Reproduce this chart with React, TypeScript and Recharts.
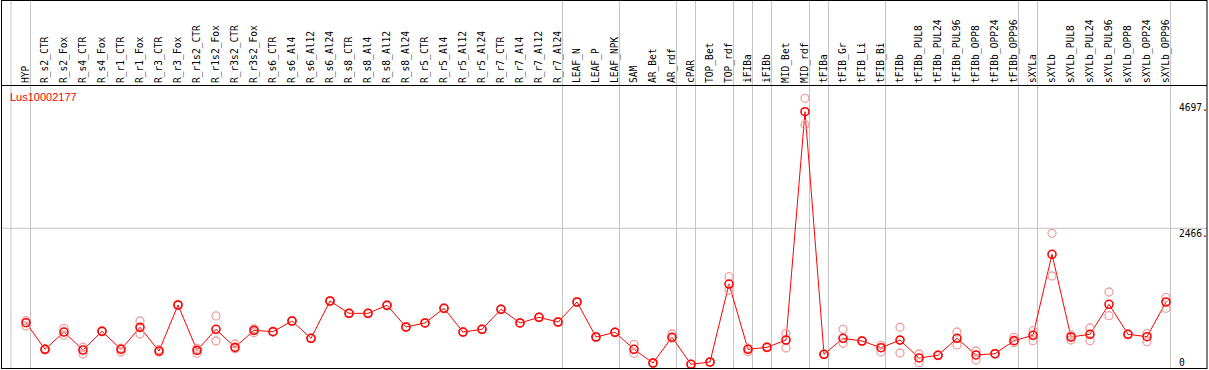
import React from "react";
import { ComposedChart, Line, XAxis, YAxis, ReferenceLine } from "recharts";

const samples = [
  "HYP", "R_s2_CTR", "R_s2_Fox", "R_s4_CTR", "R_s4_Fox", "R_r1_CTR", "R_r1_Fox", "R_r3_CTR",
  "R_r3_Fox", "R_r1s2_CTR", "R_r1s2_Fox", "R_r3s2_CTR", "R_r3s2_Fox", "R_s6_CTR", "R_s6_Al4",
  "R_s6_Al12", "R_s6_Al24", "R_s8_CTR", "R_s8_Al4", "R_s8_Al12", "R_s8_Al24", "R_r5_CTR",
  "R_r5_Al4", "R_r5_Al12", "R_r5_Al24", "R_r7_CTR", "R_r7_Al4", "R_r7_Al12", "R_r7_Al24",
  "LEAF_N", "LEAF_P", "LEAF_NPK", "SAM", "AR_Bet", "AR_rdf", "cPAR", "TOP_Bet", "TOP_rdf",
  "iFIBa", "iFIBb", "MID_Bet", "MID_rdf", "tFIBa", "tFIB_Gr", "tFIB_Li", "tFIB_Bi", "tFIBb",
  "tFIBb_PUL8", "tFIBb_PUL24", "tFIBb_PUL96", "tFIBb_OPP8", "tFIBb_OPP24", "tFIBb_OPP96",
  "sXYLa", "sXYLb", "sXYLb_PUL8", "sXYLb_PUL24", "sXYLb_PUL96", "sXYLb_OPP8", "sXYLb_OPP24",
  "sXYLb_OPP96",
];

// mean expression
const meanValues = [
  796, 325, 631, 313, 644, 325, 714, 295, 1109, 307, 679, 360, 661, 637, 826,
  520, 1180, 962, 962, 1104, 720, 791, 1051, 631, 679, 1033, 791, 891, 808,
  1162, 543, 626, 325, 83, 538, 60, 101, 1480, 325, 361, 490, 4528, 237, 520,
  472, 354, 488, 172, 219, 520, 225, 248, 478, 573, 2006, 543, 591, 1121, 591,
  548, 1162,
];

// replicates
const rep1 = [
  831, 336, 697, 361, 655, 347, 826, 325, 1115, 343, 915, 419, 690, 645, 830,
  526, 1186, 968, 967, 1110, 726, 797, 1057, 637, 685, 1039, 797, 897, 814,
  1168, 549, 632, 414, 88, 596, 62, 104, 1610, 345, 370, 608, 4765, 240, 679,
  478, 396, 715, 242, 225, 631, 295, 254, 538, 654, 2377, 578, 702, 1339, 597,
  601, 1245,
];
const rep2 = [
  738, 313, 573, 242, 633, 278, 596, 278, 1103, 255, 472, 336, 619, 630, 822,
  514, 1174, 956, 957, 1098, 714, 785, 1045, 625, 673, 1027, 785, 885, 802,
  1156, 537, 620, 255, 78, 525, 58, 98, 1374, 283, 352, 348, 4298, 234, 432,
  466, 278, 260, 88, 213, 401, 136, 242, 442, 478, 1622, 490, 478, 920, 585,
  460, 1051,
];

// group separators are drawn just after these samples
const groupEnds = [
  "HYP", "R_r7_Al24", "LEAF_NPK", "AR_rdf", "cPAR", "TOP_rdf", "iFIBa", "iFIBb",
  "MID_rdf", "tFIBa", "tFIB_Bi", "tFIBb_OPP96", "sXYLa", "sXYLb_OPP96",
];

const yTicks = [0, 2466, 4697];

const rows = samples.map((name, i) => ({
  name,
  mean: meanValues[i],
  r1: rep1[i],
  r2: rep2[i],
}));

const MONO = "'DejaVu Sans Mono', monospace";
const GRAY = "#c4c4c4";
const PINK = "#f0a0a0";

function SampleTick(props: any) {
  const { x, payload } = props;
  const tx = x + 3;
  return (
    <text
      x={tx}
      y={83}
      transform={`rotate(-90, ${tx}, 83)`}
      fontFamily={MONO}
      fontSize={9.6}
      fill="#000"
      textAnchor="start"
    >
      {payload.value}
    </text>
  );
}

function ValueTick(props: any) {
  const { y, payload } = props;
  const label = payload.value === 0 ? "0" : `${payload.value}.`;
  return (
    <text
      x={1179}
      y={y}
      dy={payload.value === 0 ? -2 : 8.5}
      fontFamily={MONO}
      fontSize={9.6}
      fill="#000"
      textAnchor="start"
    >
      {label}
    </text>
  );
}

export default function App() {
  return (
    <div style={{ position: "absolute", left: 0, top: 0, width: 1209, height: 370, background: "#fff" }}>
      <ComposedChart
        width={1209}
        height={370}
        data={rows}
        margin={{ top: 0, right: 0, bottom: 2.3, left: 16.5 }}
      >
        <XAxis
          dataKey="name"
          orientation="top"
          scale="band"
          height={85}
          interval={0}
          tick={<SampleTick />}
          tickLine={false}
          axisLine={false}
        />
        <YAxis
          orientation="right"
          width={33.5}
          domain={[0, 5000]}
          ticks={yTicks}
          interval={0}
          tick={<ValueTick />}
          tickLine={false}
          axisLine={false}
        />
        <ReferenceLine
          y={2466}
          stroke={GRAY}
          shape={(p: any) => (
            <line x1={1} x2={1207} y1={p.y1} y2={p.y2} stroke={GRAY} strokeWidth={1} />
          )}
        />
        {groupEnds.map((g) => (
          <ReferenceLine
            key={g}
            x={g}
            stroke={GRAY}
            shape={(p: any) => (
              <line x1={p.x1 + 4.5} x2={p.x2 + 4.5} y1={0} y2={368} stroke={GRAY} strokeWidth={1} />
            )}
          />
        ))}
        <Line
          dataKey="r1"
          stroke="none"
          isAnimationActive={false}
          activeDot={false}
          dot={{ r: 4, stroke: PINK, strokeWidth: 1.3, fill: "none" }}
        />
        <Line
          dataKey="r2"
          stroke="none"
          isAnimationActive={false}
          activeDot={false}
          dot={{ r: 4, stroke: PINK, strokeWidth: 1.3, fill: "none" }}
        />
        <Line
          dataKey="mean"
          type="linear"
          stroke="#ff0000"
          strokeWidth={1}
          isAnimationActive={false}
          activeDot={false}
          dot={{ r: 4, stroke: "#ff0000", strokeWidth: 1.6, fill: "none" }}
        />
      </ComposedChart>
      <svg
        width={1209}
        height={370}
        style={{ position: "absolute", left: 0, top: 0, pointerEvents: "none" }}
      >
        <line x1={11} x2={11} y1={0} y2={368} stroke={GRAY} strokeWidth={1} />
        <rect x={1.5} y={0.5} width={1205.5} height={368} fill="none" stroke="#000" strokeWidth={1} />
        <line x1={1} x2={1207} y1={85.5} y2={85.5} stroke="#000" strokeWidth={1} />
        <text x={10} y={101} fontFamily="'Liberation Sans', Arial, sans-serif" fontSize={11} fill="#ff0000">
          Lus10002177
        </text>
      </svg>
    </div>
  );
}
